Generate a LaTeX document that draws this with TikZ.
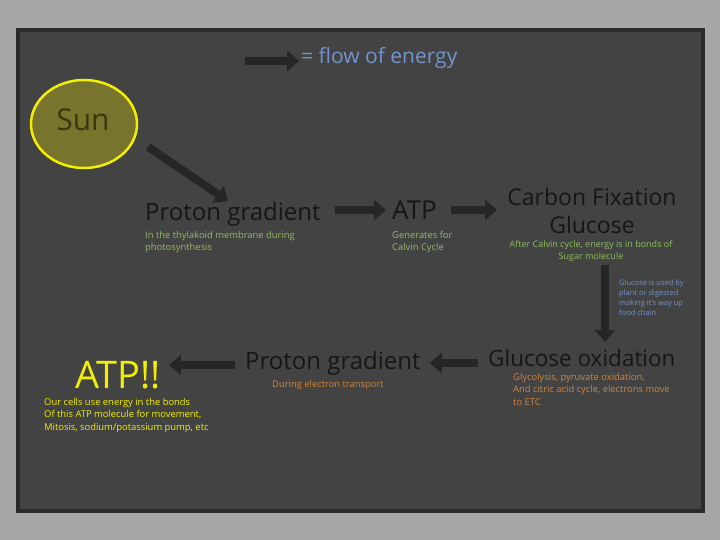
\documentclass[tikz,border=0pt]{standalone}
\usepackage{fontspec}
\setmainfont{Open Sans}
\usetikzlibrary{arrows.meta,shapes.geometric}
\definecolor{PageGray}{HTML}{A6A6A6}
\definecolor{BoardGray}{HTML}{434343}
\definecolor{BoardEdge}{HTML}{2A2A2A}
\definecolor{FlowInk}{HTML}{262626}
\definecolor{HeadInk}{HTML}{161616}
\definecolor{NoteGreen}{HTML}{8EBE5E}
\definecolor{NoteOrange}{HTML}{D0843A}
\definecolor{NoteBlue}{HTML}{7393CC}
\definecolor{SunFill}{HTML}{78742E}
\definecolor{SunRim}{HTML}{F2F000}
\definecolor{SunInk}{HTML}{3A380E}

\tikzset{
  flow/.style={FlowInk,line width=8pt,-{Triangle[length=12pt,width=20pt]}},
  head/.style={anchor=west,inner sep=0pt,text=HeadInk,font=\fontsize{24}{28}\selectfont},
  note/.style={anchor=north west,inner sep=0pt,align=left,font=\fontsize{9.4}{12.4}\selectfont}
}

\begin{document}
\begin{tikzpicture}[x=1pt,y=-1pt]
  \fill[PageGray] (0,0) rectangle (720,540);
  \draw[BoardEdge,line width=4pt,fill=BoardGray] (18,30) rectangle (703,511);

  % legend
  \coordinate (keyA) at (245,61);
  \coordinate (keyB) at (299,61);
  \draw[flow] (keyA) -- (keyB);
  \node[anchor=west,inner sep=0pt,text=NoteBlue,font=\fontsize{21}{24}\selectfont] (key) at (301,58) {= flow of energy};

  % sun
  \node[ellipse,draw=SunRim,line width=2.5pt,fill=SunFill,minimum width=106pt,minimum height=88pt] (sun) at (84,124) {};
  \node[text=SunInk,font=\fontsize{30}{34}\selectfont,inner sep=0pt] (sunlbl) at (83,120) {Sun};

  % top row
  \node[head] (pgA) at (145,214) {Proton gradient};
  \node[note,text=NoteGreen] (pgAnote) at (145,231) {In the thylakoid membrane during\\photosynthesis};
  \node[head,font=\fontsize{26}{30}\selectfont] (atpA) at (392,210) {ATP};
  \node[note,text=NoteGreen] (atpAnote) at (392,231) {Generates for\\Calvin Cycle};
  \node[anchor=center,inner sep=0pt,align=center,text=HeadInk,font=\fontsize{23}{28}\selectfont] (cfix) at (592,211) {Carbon Fixation\\Glucose};
  \node[anchor=north,inner sep=0pt,align=center,text=NoteGreen,font=\fontsize{9}{12.4}\selectfont] (cfixnote) at (591,240) {After Calvin cycle, energy is in bonds of\\Sugar molecule};
  \node[note,text=NoteBlue,font=\fontsize{7.5}{10}\selectfont] (chain) at (619,280) {Glucose is used by\\plant or digested\\making it's way up\\food chain};

  % bottom row
  \node[head,font=\fontsize{22.5}{28}\selectfont] (gox) at (488,358) {Glucose oxidation};
  \node[note,text=NoteOrange] (goxnote) at (513,373) {Glycolysis, pyruvate oxidation,\\And citric acid cycle, electrons move\\to ETC};
  \node[head] (pgB) at (245,363) {Proton gradient};
  \node[note,text=NoteOrange] (pgBnote) at (272,380) {During electron transport};
  \node[anchor=west,inner sep=0pt,text=SunRim,font=\fontsize{38}{42}\selectfont] (atpB) at (75,375) {ATP!!};
  \node[note,text=SunRim] (atpBnote) at (44,398) {Our cells use energy in the bonds\\Of this ATP molecule for movement,\\Mitosis, sodium/potassium pump, etc};

  % energy flow
  \draw[flow] (sun.east) ++(10,23) -- (228,201);
  \draw[flow,shorten >=6pt] (pgA.east) ++(14,-4) coordinate (fa) -- (atpA.west |- fa);
  \draw[flow] (atpA.east) ++(14,0) coordinate (fb) -- (497,210);
  \draw[flow] (605,265) -- (605,342);
  \draw[flow,shorten >=9pt] (gox.west) ++(-10,5) coordinate (fc) -- (pgB.east |- fc);
  \draw[flow,shorten >=8pt] (pgB.west) ++(-10,2) coordinate (fd) -- (atpB.east |- fd);
\end{tikzpicture}
\end{document}
